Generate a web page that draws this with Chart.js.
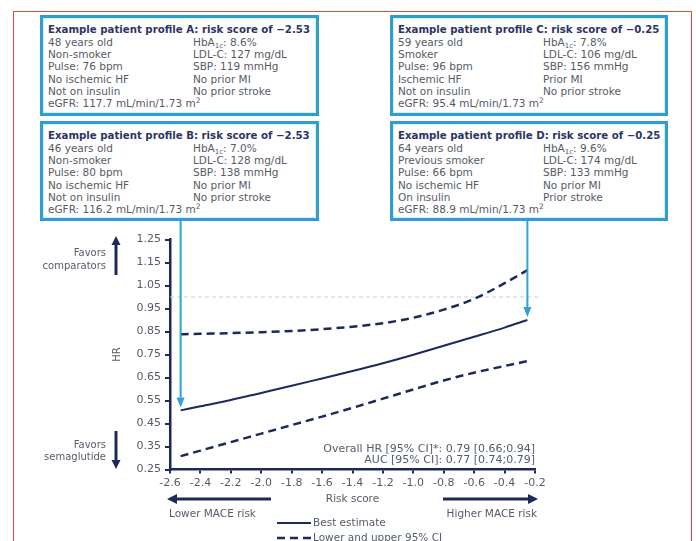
<!DOCTYPE html>
<html>
<head>
<meta charset="utf-8">
<script src="https://cdn.jsdelivr.net/npm/chart.js@4.4.1/dist/chart.umd.min.js"></script>
<style>
    html, body { margin: 0; padding: 0; background: #fff; overflow: hidden; }
    #wrap { position: relative; width: 696px; height: 541px; overflow: hidden; font-family: "DejaVu Sans", Verdana, sans-serif; }
    #frame { position: absolute; left: 13px; top: 11px; width: 677px; height: 600px; border: 1.5px solid #e8453f; }
    #chart { position: absolute; left: 0; top: 0; }
    .box { position: absolute; width: 273px; border: 3px solid #2f9dd0; background: #fff; padding: 5px 0 0 5px; box-sizing: border-box; box-shadow: inset 0 0 0 1px #d6eef8; }
    .box .title { font-weight: bold; font-size: 10.2px; line-height: 13px; color: #2b3564; white-space: nowrap; }
    .box .rows { display: grid; grid-template-columns: 145px auto; font-size: 10.5px; line-height: 12.2px; color: #565b64; white-space: nowrap; }
    .box sub { font-size: 7px; line-height: 0; vertical-align: -2px; }
    .box sup { font-size: 7.5px; line-height: 0; vertical-align: 4px; }
</style>
</head>
<body>
<div id="wrap">
    <div id="frame"></div>
    <canvas id="chart" width="696" height="541"></canvas>

    <div class="box" style="left:40px; top:15px; width:279px; height:101px;">
        <div class="title">Example patient profile A: risk score of −2.53</div>
        <div class="rows">
            <span>48 years old</span><span>HbA<sub>1c</sub>: 8.6%</span>
            <span>Non-smoker</span><span>LDL-C: 127 mg/dL</span>
            <span>Pulse: 76 bpm</span><span>SBP: 119 mmHg</span>
            <span>No ischemic HF</span><span>No prior MI</span>
            <span>Not on insulin</span><span>No prior stroke</span>
            <span>eGFR: 117.7 mL/min/1.73 m<sup>2</sup></span><span></span>
        </div>
    </div>
    <div class="box" style="left:40px; top:121px; width:279px; height:100px;">
        <div class="title">Example patient profile B: risk score of −2.53</div>
        <div class="rows">
            <span>46 years old</span><span>HbA<sub>1c</sub>: 7.0%</span>
            <span>Non-smoker</span><span>LDL-C: 128 mg/dL</span>
            <span>Pulse: 80 bpm</span><span>SBP: 138 mmHg</span>
            <span>No ischemic HF</span><span>No prior MI</span>
            <span>Not on insulin</span><span>No prior stroke</span>
            <span>eGFR: 116.2 mL/min/1.73 m<sup>2</sup></span><span></span>
        </div>
    </div>
    <div class="box" style="left:390px; top:15px; width:278px; height:101px;">
        <div class="title">Example patient profile C: risk score of −0.25</div>
        <div class="rows">
            <span>59 years old</span><span>HbA<sub>1c</sub>: 7.8%</span>
            <span>Smoker</span><span>LDL-C: 106 mg/dL</span>
            <span>Pulse: 96 bpm</span><span>SBP: 156 mmHg</span>
            <span>Ischemic HF</span><span>Prior MI</span>
            <span>Not on insulin</span><span>No prior stroke</span>
            <span>eGFR: 95.4 mL/min/1.73 m<sup>2</sup></span><span></span>
        </div>
    </div>
    <div class="box" style="left:390px; top:121px; width:278px; height:100px;">
        <div class="title">Example patient profile D: risk score of −0.25</div>
        <div class="rows">
            <span>64 years old</span><span>HbA<sub>1c</sub>: 9.6%</span>
            <span>Previous smoker</span><span>LDL-C: 174 mg/dL</span>
            <span>Pulse: 66 bpm</span><span>SBP: 133 mmHg</span>
            <span>No ischemic HF</span><span>No prior MI</span>
            <span>On insulin</span><span>Prior stroke</span>
            <span>eGFR: 88.9 mL/min/1.73 m<sup>2</sup></span><span></span>
        </div>
    </div>
</div>

<script>
// values
const riskScore = [-2.53, -2.4, -2.2, -2.0, -1.8, -1.6, -1.4, -1.2, -1.0, -0.8, -0.6, -0.4, -0.25];
const bestHR  = [0.507, 0.525, 0.552, 0.583, 0.614, 0.646, 0.678, 0.712, 0.749, 0.788, 0.827, 0.867, 0.900];
const upperHR = [0.838, 0.840, 0.843, 0.847, 0.852, 0.860, 0.871, 0.886, 0.910, 0.945, 0.992, 1.060, 1.117];
const lowerHR = [0.308, 0.332, 0.369, 0.406, 0.443, 0.480, 0.518, 0.558, 0.598, 0.637, 0.671, 0.700, 0.721];
const xTicks = [-2.6, -2.4, -2.2, -2.0, -1.8, -1.6, -1.4, -1.2, -1.0, -0.8, -0.6, -0.4, -0.2];
const yTicks = [0.25, 0.35, 0.45, 0.55, 0.65, 0.75, 0.85, 0.95, 1.05, 1.15, 1.25];
const refHR = 1.0;
const profilePoints = [0, riskScore.length - 1]; // profiles B and D sit at the ends of the curve

const navy = '#1c2a5b';
const textGray = '#545c69';
const cyan = '#2ba3d9';
const FONT = "'DejaVu Sans', Verdana, sans-serif";
Chart.defaults.font.family = FONT;

const pts = (ys) => riskScore.map((x, i) => ({ x, y: ys[i] }));

const arrow = (ctx, x1, y1, x2, y2, w, hw, hl, color) => {
    const a = Math.atan2(y2 - y1, x2 - x1);
    const bx = x2 - hl * Math.cos(a), by = y2 - hl * Math.sin(a);
    ctx.save();
    ctx.strokeStyle = color; ctx.fillStyle = color; ctx.lineWidth = w;
    ctx.beginPath(); ctx.moveTo(x1, y1); ctx.lineTo(bx, by); ctx.stroke();
    ctx.beginPath();
    ctx.moveTo(x2, y2);
    ctx.lineTo(bx + hw / 2 * Math.sin(a), by - hw / 2 * Math.cos(a));
    ctx.lineTo(bx - hw / 2 * Math.sin(a), by + hw / 2 * Math.cos(a));
    ctx.closePath(); ctx.fill();
    ctx.restore();
};

const text = (ctx, s, x, y, size, align, color) => {
    ctx.save();
    ctx.font = size + 'px ' + FONT;
    ctx.fillStyle = color || textGray;
    ctx.textAlign = align; ctx.textBaseline = 'middle';
    ctx.fillText(s, x, y);
    ctx.restore();
};

const decor = {
    id: 'decor',
    beforeDatasetsDraw(chart) {
        const { ctx, chartArea, scales: { y } } = chart;
        const yy = y.getPixelForValue(refHR);
        ctx.save();
        ctx.strokeStyle = '#cfcfcf'; ctx.lineWidth = 1; ctx.setLineDash([4, 3]);
        ctx.beginPath(); ctx.moveTo(chartArea.left, yy); ctx.lineTo(chartArea.right + 4, yy); ctx.stroke();
        ctx.restore();
    },
    afterDraw(chart) {
        const { ctx, chartArea } = chart;
        const meta = chart.getDatasetMeta(0);

        // profile arrows from the boxes down to the curve
        profilePoints.forEach(i => {
            const p = meta.data[i];
            arrow(ctx, p.x, 221, p.x, p.y - 3, 2, 8, 10, cyan);
        });

        // favors labels
        text(ctx, 'Favors', 106, 253, 10, 'right');
        text(ctx, 'comparators', 106, 266, 10, 'right');
        text(ctx, 'Favors', 106, 445, 10, 'right');
        text(ctx, 'semaglutide', 106, 457, 10, 'right');
        arrow(ctx, 116, 275, 116, 236, 3, 9, 9, navy);
        arrow(ctx, 116, 431, 116, 469, 3, 9, 9, navy);

        // summary stats
        text(ctx, 'Overall HR [95% CI]*: 0.79 [0.66;0.94]', chartArea.right, 449, 11, 'right');
        text(ctx, 'AUC [95% CI]: 0.77 [0.74;0.79]', chartArea.right, 460, 11, 'right');

        // risk direction arrows
        arrow(ctx, 271, 499, 167, 499, 3, 10, 10, navy);
        arrow(ctx, 443, 499, 538, 499, 3, 10, 10, navy);
        text(ctx, 'Lower MACE risk', 169, 514, 10.5, 'left');
        text(ctx, 'Higher MACE risk', 537, 514, 10.5, 'right');

        // legend
        let ly = 523;
        const seen = new Set();
        chart.data.datasets.forEach(ds => {
            if (seen.has(ds.label)) return;
            seen.add(ds.label);
            ctx.save();
            ctx.strokeStyle = ds.borderColor; ctx.lineWidth = ds.borderWidth;
            ctx.setLineDash(ds.borderDash || []);
            ctx.beginPath(); ctx.moveTo(277, ly); ctx.lineTo(311, ly); ctx.stroke();
            ctx.restore();
            text(ctx, ds.label, 313, ly, 10.5, 'left');
            ly += 15;
        });
    }
};

const axisCommon = {
    grid: { display: true, drawOnChartArea: false, drawTicks: true, color: navy, lineWidth: 2 },
    border: { display: true, color: navy, width: 2.5 },
};

new Chart(document.getElementById('chart'), {
    type: 'line',
    data: {
        datasets: [
            { label: 'Best estimate', data: pts(bestHR), borderColor: navy, borderWidth: 2, pointRadius: 0, cubicInterpolationMode: 'monotone' },
            { label: 'Lower and upper 95% CI', data: pts(upperHR), borderColor: navy, borderWidth: 2.5, borderDash: [8, 5], pointRadius: 0, cubicInterpolationMode: 'monotone' },
            { label: 'Lower and upper 95% CI', data: pts(lowerHR), borderColor: navy, borderWidth: 2.5, borderDash: [8, 5], pointRadius: 0, cubicInterpolationMode: 'monotone' }
        ]
    },
    options: {
        responsive: false,
        animation: false,
        devicePixelRatio: 1,
        layout: { padding: { left: 111, top: 239.5, right: 161, bottom: 35.5 } },
        plugins: { legend: { display: false }, tooltip: { enabled: false } },
        scales: {
            x: {
                ...axisCommon,
                type: 'linear', min: -2.6, max: -0.2,
                grid: { ...axisCommon.grid, tickLength: 4 },
                afterBuildTicks: a => { a.ticks = xTicks.map(v => ({ value: v })); },
                afterFit: a => { a.height = 36; },
                ticks: { callback: v => v.toFixed(1), color: textGray, font: { size: 11 }, padding: 3, maxRotation: 0, autoSkip: false },
                title: { display: true, text: 'Risk score', color: textGray, font: { size: 10.5 }, padding: 0 }
            },
            y: {
                ...axisCommon,
                min: 0.25, max: 1.25,
                grid: { ...axisCommon.grid, tickLength: 5 },
                afterBuildTicks: a => { a.ticks = yTicks.map(v => ({ value: v })); },
                afterFit: a => { a.width = 59; },
                ticks: { callback: v => v.toFixed(2), color: textGray, font: { size: 11 }, padding: 4, autoSkip: false },
                title: { display: true, text: 'HR', color: textGray, font: { size: 10 }, padding: 0 }
            }
        }
    },
    plugins: [decor]
});
</script>
</body>
</html>
